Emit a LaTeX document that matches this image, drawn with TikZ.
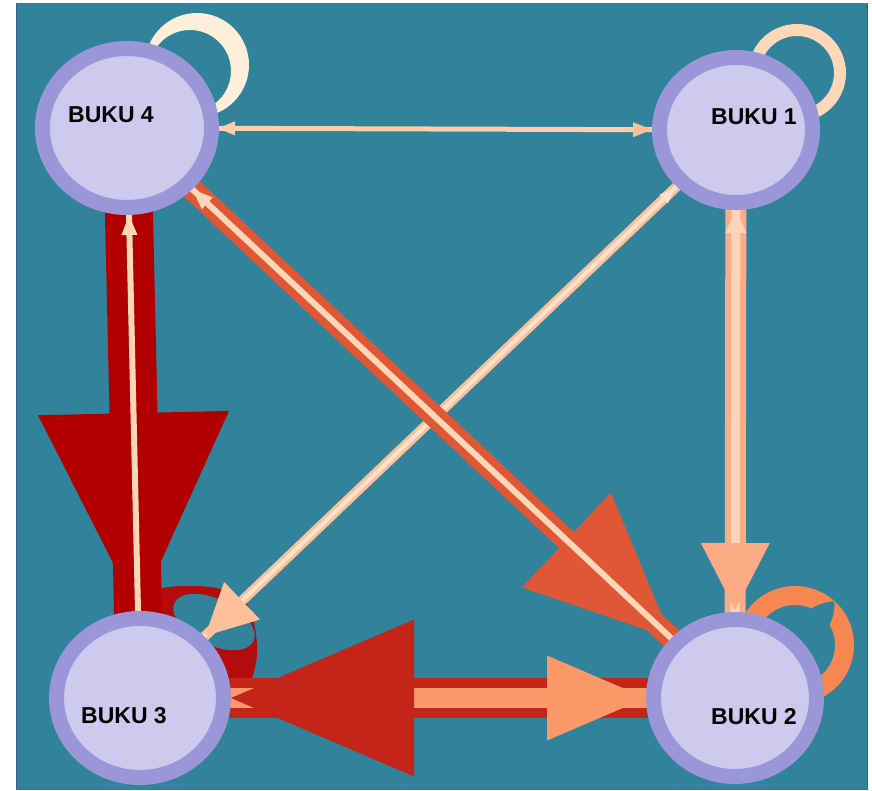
\documentclass[tikz,border=0pt]{standalone}
\usepackage{fontspec}
\newfontfamily\labfont{Liberation Sans}
\usetikzlibrary{calc,shapes.geometric}
\pgfdeclarelayer{bg}
\pgfdeclarelayer{edges}
\pgfsetlayers{bg,edges,main}
\definecolor{tealbg}{RGB}{48,131,154}
\definecolor{frame}{RGB}{62,92,140}
\definecolor{ringc}{RGB}{155,150,216}
\definecolor{fillc}{RGB}{206,202,238}
\definecolor{darkredE}{RGB}{178,0,0}
\definecolor{orangeE}{RGB}{223,87,52}
\definecolor{redE}{RGB}{197,37,25}
\definecolor{peachIn}{RGB}{250,152,104}
\definecolor{peachA}{RGB}{252,172,132}
\definecolor{peachAl}{RGB}{253,212,184}
\definecolor{peachB}{RGB}{253,192,155}
\definecolor{peachBl}{RGB}{254,226,204}
\definecolor{lineC}{RGB}{253,206,170}
\definecolor{lineCtip}{RGB}{253,190,145}
\definecolor{creamE}{RGB}{253,214,182}
\definecolor{loopA}{RGB}{253,238,216}
\definecolor{loopB}{RGB}{253,215,183}
\definecolor{loopC}{RGB}{247,135,80}
\definecolor{loopD}{RGB}{180,12,12}
\tikzset{
  buku/.style={ellipse, draw=ringc, line width=15pt, fill=fillc, inner sep=0pt, outer sep=0pt},
  lab/.style={font=\labfont\bfseries\fontsize{23}{23}\selectfont, text=black, inner sep=0pt},
}
% arrowhead: #1 from node, #2 to node, #3 tip distance from centre of #2, #4 length, #5 half width, #6 colour
\newcommand\ahead[6]{%
  \pgfmathsetmacro\ahL{#3+#4}%
  \path ($(#2.center)!#3pt!(#1.center)$) coordinate (aht)
        ($(#2.center)!\ahL pt!(#1.center)$) coordinate (ahb);
  \fill[#6] (aht) -- ($(ahb)!#5pt!90:(aht)$) -- ($(ahb)!#5pt!-90:(aht)$) -- cycle;}
\begin{document}
\begin{tikzpicture}[x=1pt,y=-1pt]
\useasboundingbox (0,0) rectangle (872,790);
% nodes
\node[buku, minimum width=169pt, minimum height=159pt] (N4) at (127,128) {};
\node[buku, minimum width=153pt, minimum height=145pt] (N1) at (736,130) {};
\node[buku, minimum width=167pt, minimum height=159pt] (N3) at (140,698) {};
\node[buku, minimum width=163pt, minimum height=157pt] (N2) at (735,698) {};
\node[lab] (T4) at (111,115) {BUKU 4};
\node[lab] (T1) at (754,117) {BUKU 1};
\node[lab] (T3) at (124,716) {BUKU 3};
\node[lab] (T2) at (754,717) {BUKU 2};
\begin{pgfonlayer}{bg}
  \fill[white] (0,0) rectangle (872,790);
  \fill[tealbg] (17,3) rectangle (867,790);
  \draw[frame, line width=1.5pt] (16.5,3) -- (16.5,790);
  \draw[frame, line width=1.5pt] (867.5,3) -- (867.5,790);
\end{pgfonlayer}
\begin{pgfonlayer}{edges}
  % self loops
  \fill[loopA, even odd rule] (197,65) circle (52pt) (190,71) circle (41pt);
  \draw[loopB, line width=12pt] (797,73) circle (43pt);
  \fill[loopC] plot[domain=-165:62, samples=120] ({795+59*cos(\x)},{645+59*sin(\x)})
     -- plot[domain=62:-165, samples=120] ({795+(59-19*min(1,abs(\x+48)/18))*cos(\x)},{645+(59-19*min(1,abs(\x+48)/18))*sin(\x)}) -- cycle;
  \fill[loopD, even odd rule] plot[smooth] coordinates {(150,600) (163,588) (200,586) (228,591) (247,604) (255,628) (257,655) (251,680) (236,692)} -- (180,660) -- cycle
     (214,622) circle [x radius=44pt, y radius=23pt, rotate=-26];
  % BUKU 4 <-> BUKU 1
  \draw[lineC, line width=5pt] (N4.center) -- (N1.center);
  \ahead{N4}{N1}{84}{19}{7.5}{lineCtip}
  \ahead{N1}{N4}{91}{17}{7}{lineC}
  % BUKU 1 -> BUKU 3 and back
  \draw[peachB, line width=10pt] (N1.center) -- (N3.center);
  \draw[peachBl, line width=4pt] (N3.center) -- (N1.center);
  \ahead{N1}{N3}{90}{51}{26}{peachB}
  \ahead{N3}{N1}{84}{16}{6}{peachBl}
  % BUKU 4 -> BUKU 2 and back
  \draw[orangeE, line width=22pt] (N4.center) -- (N2.center);
  \ahead{N4}{N2}{87}{144}{65}{orangeE}
  \draw[creamE, line width=6pt] (N2.center) -- (N4.center);
  \ahead{N2}{N4}{90}{20}{8}{creamE}
  % BUKU 4 -> BUKU 3 and back
  \draw[darkredE, line width=48pt] (N4.center) -- (N3.center);
  \ahead{N4}{N3}{86}{199}{95.5}{darkredE}
  \draw[creamE, line width=6pt] (N3.center) -- (N4.center);
  \ahead{N3}{N4}{87}{20}{8}{creamE}
  % BUKU 1 -> BUKU 2 and back
  \draw[peachA, line width=21pt] (N1.center) -- (N2.center);
  \draw[peachAl, line width=9pt] (N2.center) -- (N1.center);
  \ahead{N2}{N1}{79}{24}{10.5}{peachAl}
  \ahead{N1}{N2}{88}{67}{34.5}{peachA}
  % BUKU 2 -> BUKU 3 and back
  \draw[redE, line width=40pt] (N2.center) -- (N3.center);
  \draw[peachIn, line width=20pt] (N3.center) -- (N2.center);
  \ahead{N2}{N3}{91}{183}{78.5}{redE}
  \ahead{N3}{N2}{89}{99}{42.5}{peachIn}
\end{pgfonlayer}
\end{tikzpicture}
\end{document}
